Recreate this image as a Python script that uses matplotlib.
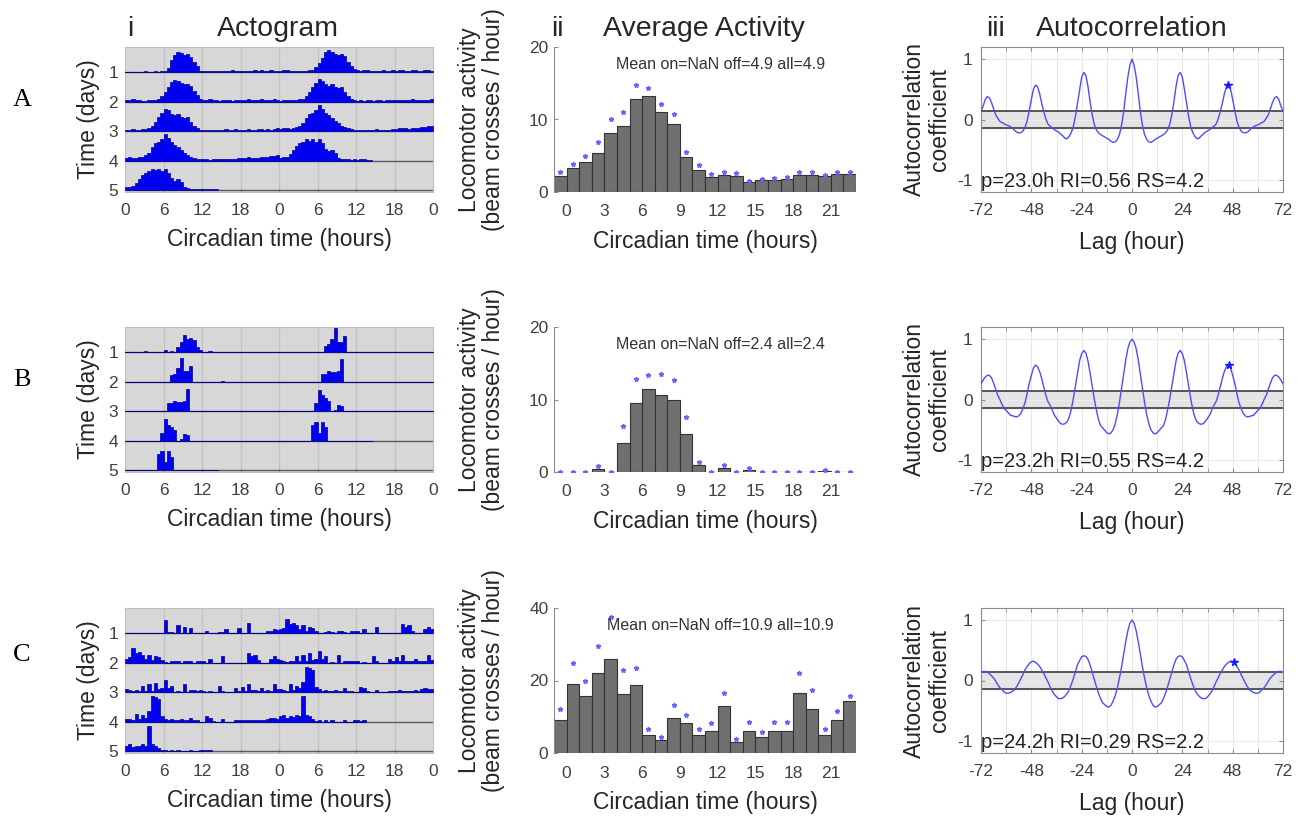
import numpy as np
import matplotlib.pyplot as plt

plt.rcParams["font.family"] = ["Liberation Sans", "DejaVu Sans"]
plt.rcParams["axes.unicode_minus"] = False

# ---------------- data ----------------
panel_labels = ["A", "B", "C"]

# actogram activity, 30-min bins, one list per day (last day is partial)
acto_a = [
    [0, 0, 0, 0, 0.2, 0, 0.3, 0, 0.2, 0.3, 0.2, 0.3, 0.4, 1.5, 4.5, 6.5, 7.7, 7.4, 6.6, 7.0,
     5.7, 3.8, 2.4, 0.6, 0.3, 0.5, 0.6, 0.4, 0.5, 0.3, 0.6, 0.4, 0.5, 0.8, 0.3, 0.4, 0.6, 0.3, 0.5, 0.4,
     0.7, 0.5, 0.8, 0.6, 0.5, 0.9, 0.5, 0.6],
    [0.5, 0.8, 1.0, 0.6, 0.5, 0.4, 0.3, 0.5, 0.6, 0.8, 1.0, 2.0, 3.5, 5.5, 7.5, 8.3, 7.8, 7.0, 6.5, 6.8,
     6.0, 4.0, 2.5, 1.2, 0.8, 0.6, 0.9, 0.7, 0.5, 0.4, 0.6, 0.5, 0.7, 0.4, 0.6, 0.8, 0.5, 0.7, 0.9, 0.6,
     0.5, 0.8, 1.0, 0.6, 0.5, 0.7, 0.9, 0.6],
    [0.4, 0.6, 0.8, 0.5, 0.6, 0.7, 0.9, 1.2, 2.0, 3.5, 5.5, 7.0, 8.5, 8.0, 6.5, 6.0, 6.5, 5.5, 5.0, 5.5,
     3.5, 2.0, 1.2, 0.6, 0.4, 0.5, 0.3, 0.5, 0.6, 0.4, 0.5, 0.7, 0.4, 0.6, 0.8, 0.5, 0.6, 0.5, 0.8, 0.6,
     0.5, 0.9, 0.7, 0.5, 0.8, 0.6, 0.7, 1.0],
    [0.8, 1.2, 1.0, 0.9, 1.3, 1.5, 2.0, 3.0, 5.0, 6.5, 7.0, 8.0, 10.0, 8.5, 7.0, 6.0, 5.0, 4.0, 3.0, 2.0,
     1.5, 1.0, 0.7, 0.5, 0.4, 0.5, 0.3, 0.6, 0.4, 0.5, 0.7, 0.6, 0.5, 0.4, 0.6, 0.8, 0.9, 1.0, 1.2, 1.0,
     0.9, 1.1, 1.3, 1.2, 1.4, 1.6, 1.8, 2.0],
    [1.0, 1.2, 1.5, 2.5, 4.0, 5.5, 6.5, 7.0, 8.0, 7.5, 8.0, 7.0, 8.0, 6.5, 4.5, 3.5, 4.0, 3.0, 1.0, 0.6,
     0.5, 0.4, 0.3, 0.5, 0.3, 0.4, 0.5, 0.3, 0.2],
]
acto_b = [
    [0, 0, 0, 0, 0, 0, 0.4, 0, 0, 0, 0, 0, 0.8, 0, 0.6, 0, 2.0, 4.0, 6.5, 5.0,
     5.5, 4.5, 2.0, 1.0, 0, 0, 0.5, 0, 0, 0, 0, 0, 0, 0, 0, 0, 0, 0, 0, 0,
     0, 0, 0.2, 0, 0, 0, 0, 0],
    [0, 0, 0, 0, 0, 0, 0, 0, 0, 0, 0, 0, 0, 0, 2.5, 3.0, 5.0, 9.0, 4.0, 4.0,
     6.0, 0, 0, 0, 0, 0, 0, 0, 0, 0, 0.3, 0, 0, 0, 0, 0, 0, 0, 0, 0,
     0, 0, 0, 0, 0, 0, 0, 0],
    [0, 0, 0, 0, 0, 0, 0, 0, 0, 0, 0, 0, 0, 3.0, 3.0, 4.0, 3.5, 3.5, 4.0, 8.5,
     0, 0, 0, 0, 0, 0, 0, 0, 0, 0, 0, 0, 0, 0, 0, 0, 0, 0, 0, 0,
     0, 0, 0, 0, 0, 0, 0, 0],
    [0, 0, 0, 0, 0, 0, 0, 0, 0, 0, 0, 3.0, 8.0, 6.0, 5.0, 4.0, 0, 0.5, 2.5, 2.0,
     0, 0, 0, 0, 0, 0, 0, 0, 0, 0, 0, 0, 0, 0, 0, 0, 0, 0, 0, 0,
     0, 0, 0, 0, 0, 0, 0, 0],
    [0, 0, 0, 0, 0, 0, 0, 0, 0, 0, 6.0, 7.0, 3.0, 7.0, 5.0, 0, 0, 0, 0, 0,
     0, 0, 0, 0, 0, 0, 0, 0, 0],
]
acto_c = [
    [0, 0, 0, 0, 0, 0, 0.3, 0, 0, 0, 0, 0, 5.0, 0.6, 0.5, 0.3, 3.0, 0, 2.5, 0.3,
     2.0, 0.3, 0, 0.3, 0, 0.7, 0, 0, 0, 0.5, 0.6, 1.5, 0.3, 0, 0.3, 2.0, 0, 0, 4.0, 0,
     0, 0, 0, 0, 0.7, 1.0, 1.5, 1.2],
    [1.5, 2.0, 5.5, 3.5, 4.0, 3.0, 1.5, 3.0, 1.0, 2.5, 2.0, 1.0, 0.3, 0, 0.6, 0.8, 0.5, 0, 0.7, 0.8,
     0.6, 0, 0.7, 0.8, 0.7, 0, 1.5, 0, 0, 0, 2.5, 0, 0, 0, 0, 0, 0, 0, 3.5, 2.5,
     3.0, 1.0, 0, 0, 0, 1.5, 2.5, 1.5],
    [1.0, 0.8, 0.3, 0.8, 0.5, 2.5, 0.5, 3.0, 0.5, 3.5, 1.0, 1.5, 4.5, 1.5, 2.5, 0, 0.3, 0, 3.0, 0,
     0.8, 0.7, 0.6, 0.8, 0.5, 0, 0.3, 0, 0, 2.5, 0.5, 0, 0, 0, 1.5, 0.5, 2.0, 0.5, 3.0, 0.8,
     0.8, 0.5, 1.5, 0.6, 0.7, 0.6, 3.0, 1.0],
    [1.0, 0.8, 0.5, 3.0, 0.8, 2.5, 1.5, 4.0, 9.5, 9.3, 8.5, 2.0, 1.0, 0.6, 0.8, 0.5, 0.6, 0.8, 0.5, 0.6,
     1.5, 0.6, 0.5, 0, 0, 2.0, 1.5, 0.3, 0, 0, 0.8, 0, 0, 0, 0.5, 0.6, 0.5, 0.7, 0.6, 0.5,
     0.6, 0.5, 0.7, 0.5, 1.0, 1.5, 1.2, 1.0],
    [2.0, 2.5, 1.5, 2.0, 1.8, 2.5, 2.0, 9.5, 2.5, 2.0, 1.0, 0.3, 0.5, 0, 0.4, 0, 0.5, 0, 0, 0,
     0.5, 0, 0, 0.5, 0.4, 0.3, 0.4],
]

# average activity per circadian hour: bars (mean) and blue points
hours = np.arange(24)
avg_a = [2.2, 3.3, 4.1, 5.4, 8.1, 9.1, 12.8, 13.3, 11.1, 9.4, 4.8, 3.1,
         2.1, 2.4, 2.2, 1.4, 1.7, 1.7, 1.8, 2.3, 2.3, 2.2, 2.5, 2.5]
upper_a = [2.7, 3.9, 5.0, 6.9, 10.1, 11.0, 14.8, 14.4, 12.2, 10.7, 5.5, 3.7,
           2.5, 2.8, 2.6, 1.5, 1.8, 1.9, 2.1, 2.7, 2.7, 2.4, 2.8, 2.8]
avg_b = [0, 0, 0, 0.4, 0, 4.0, 9.5, 11.4, 10.6, 9.9, 5.2, 0.9,
         0, 0.5, 0, 0.3, 0.05, 0.05, 0.05, 0.05, 0.05, 0.2, 0.05, 0.05]
upper_b = [0, 0, 0, 0.8, 0, 6.3, 12.8, 13.4, 13.5, 12.7, 7.6, 1.4,
           0, 1.0, 0, 0.6, 0, 0, 0, 0, 0, 0.3, 0, 0]
avg_c = [9.1, 18.9, 15.6, 22.0, 26.0, 16.2, 18.8, 4.9, 3.5, 9.6, 8.3, 5.0,
         6.2, 13.0, 2.9, 6.0, 4.3, 6.0, 6.0, 16.5, 12.2, 4.9, 9.2, 14.3]
upper_c = [12.1, 24.8, 20.0, 29.5, 37.4, 22.9, 23.4, 6.7, 4.4, 13.3, 10.6, 6.7,
           8.4, 16.5, 3.9, 8.5, 5.8, 8.5, 8.5, 22.2, 17.4, 6.6, 11.5, 15.8]
avg_ymax = [20, 20, 40]
avg_yticks = [[0, 10, 20], [0, 10, 20], [0, 20, 40]]
mean_text = ["Mean on=NaN off=4.9 all=4.9",
             "Mean on=NaN off=2.4 all=2.4",
             "Mean on=NaN off=10.9 all=10.9"]

# autocorrelation at 1-h lags, -72 .. 72
lags = np.arange(-72, 73)
acf_a = [0.14, 0.22, 0.33, 0.38, 0.36, 0.28, 0.18, 0.08, 0.02, -0.03, -0.05, -0.07,
         -0.09, -0.10, -0.12, -0.14, -0.18, -0.21, -0.22, -0.22, -0.19, -0.13,
         -0.02, 0.15, 0.33, 0.50, 0.57, 0.54, 0.42, 0.26, 0.12, 0.00,
         -0.08, -0.11, -0.14, -0.17, -0.19, -0.21, -0.24, -0.27, -0.31, -0.32,
         -0.28, -0.22, -0.12, 0.05, 0.27, 0.50, 0.70, 0.78, 0.73, 0.55,
         0.30, 0.08, -0.08, -0.17, -0.22, -0.25, -0.27, -0.29, -0.31, -0.33,
         -0.36, -0.38, -0.37, -0.33, -0.25, -0.10, 0.12, 0.42, 0.70, 0.90,
         1.00, 0.90, 0.70, 0.42, 0.12, -0.10, -0.25, -0.33, -0.37, -0.38,
         -0.36, -0.33, -0.31, -0.29, -0.27, -0.25, -0.22, -0.17, -0.08, 0.08,
         0.30, 0.55, 0.73, 0.78, 0.70, 0.50, 0.27, 0.05, -0.12, -0.22,
         -0.28, -0.32, -0.31, -0.27, -0.24, -0.21, -0.19, -0.17, -0.14, -0.11,
         -0.08, 0.00, 0.12, 0.26, 0.42, 0.54, 0.57, 0.50, 0.33, 0.15,
         -0.02, -0.13, -0.19, -0.22, -0.22, -0.21, -0.18, -0.14, -0.12, -0.10,
         -0.09, -0.07, -0.05, -0.03, 0.02, 0.08, 0.18, 0.28, 0.36, 0.38,
         0.33, 0.22, 0.14]
acf_b = [0.26, 0.32, 0.37, 0.40, 0.40, 0.36, 0.27, 0.17, 0.07, 0.00, -0.08, -0.15,
         -0.18, -0.22, -0.26, -0.27, -0.28, -0.29, -0.27, -0.23, -0.15, -0.05,
         0.10, 0.27, 0.40, 0.52, 0.57, 0.54, 0.46, 0.34, 0.20, 0.06,
         -0.04, -0.10, -0.18, -0.26, -0.31, -0.36, -0.40, -0.41, -0.40, -0.37,
         -0.30, -0.17, 0.01, 0.22, 0.44, 0.64, 0.76, 0.81, 0.77, 0.64,
         0.44, 0.22, 0.01, -0.17, -0.33, -0.43, -0.47, -0.51, -0.55, -0.57,
         -0.55, -0.50, -0.40, -0.25, -0.05, 0.18, 0.42, 0.65, 0.84, 0.95,
         1.00, 0.95, 0.84, 0.65, 0.42, 0.18, -0.05, -0.25, -0.40, -0.50,
         -0.55, -0.57, -0.55, -0.51, -0.47, -0.43, -0.33, -0.17, 0.01, 0.22,
         0.44, 0.64, 0.77, 0.81, 0.76, 0.64, 0.44, 0.22, 0.01, -0.17,
         -0.30, -0.37, -0.40, -0.41, -0.40, -0.36, -0.31, -0.26, -0.18, -0.10,
         -0.04, 0.06, 0.20, 0.34, 0.46, 0.54, 0.57, 0.52, 0.40, 0.27,
         0.10, -0.05, -0.15, -0.23, -0.27, -0.29, -0.28, -0.27, -0.26, -0.22,
         -0.18, -0.15, -0.08, 0.00, 0.07, 0.17, 0.27, 0.36, 0.40, 0.40,
         0.37, 0.32, 0.26]
acf_c = [0.14, 0.15, 0.15, 0.14, 0.11, 0.08, 0.04, -0.01, -0.07, -0.12, -0.15, -0.19,
         -0.21, -0.21, -0.20, -0.18, -0.15, -0.10, -0.04, 0.03, 0.10, 0.18,
         0.23, 0.28, 0.31, 0.32, 0.30, 0.27, 0.23, 0.17, 0.11, 0.04,
         -0.03, -0.11, -0.18, -0.23, -0.27, -0.30, -0.30, -0.29, -0.26, -0.22,
         -0.16, -0.07, 0.03, 0.14, 0.26, 0.33, 0.39, 0.41, 0.40, 0.35,
         0.26, 0.14, 0.02, -0.10, -0.21, -0.30, -0.37, -0.40, -0.43, -0.44,
         -0.41, -0.34, -0.25, -0.12, 0.04, 0.22, 0.43, 0.64, 0.82, 0.95,
         1.00, 0.95, 0.82, 0.64, 0.43, 0.22, 0.04, -0.12, -0.25, -0.34,
         -0.41, -0.44, -0.43, -0.40, -0.37, -0.30, -0.21, -0.10, 0.02, 0.14,
         0.26, 0.35, 0.40, 0.41, 0.39, 0.33, 0.26, 0.14, 0.03, -0.07,
         -0.16, -0.22, -0.26, -0.29, -0.30, -0.30, -0.27, -0.23, -0.18, -0.11,
         -0.03, 0.04, 0.11, 0.17, 0.23, 0.27, 0.30, 0.32, 0.31, 0.28,
         0.23, 0.18, 0.10, 0.03, -0.04, -0.10, -0.15, -0.18, -0.20, -0.21,
         -0.21, -0.19, -0.15, -0.12, -0.07, -0.01, 0.04, 0.08, 0.11, 0.14,
         0.15, 0.15, 0.14]
peak_lag = [46.0, 46.4, 48.4]
peak_r = [0.57, 0.57, 0.31]
stats_text = ["p=23.0h RI=0.56 RS=4.2",
              "p=23.2h RI=0.55 RS=4.2",
              "p=24.2h RI=0.29 RS=2.2"]
conf = 0.135

# ---------------- layout (pixels) ----------------
W, H = 1311, 818
TXT = "#262626"
row_tb = [(47, 192), (327, 472), (608, 753)]
col_lr = [(125, 433), (554, 856), (981, 1283)]
row_label_y = [100, 380, 655]

fig = plt.figure(figsize=(W / 100, H / 100), dpi=100)


def px_axes(lr, tb):
    (l, r), (t, b) = lr, tb
    return fig.add_axes([l / W, 1 - b / H, (r - l) / W, (b - t) / H])


def draw_actogram(ax, days):
    ax.set_facecolor("#d7d7d7")
    for xx in range(6, 48, 6):
        ax.axvline(xx, color="#c3c3c3", lw=1.0, zorder=1)
    for k in range(len(days)):
        vals = list(days[k])
        if k + 1 < len(days):
            vals = vals + list(days[k + 1])
        h = np.array(vals) * 0.09
        x = np.arange(len(h) + 1) * 0.5
        base = k + 1
        ax.axhline(base, color="#5a5a5a", lw=1.0, zorder=2)
        ax.fill_between(x, base, base - np.append(h, h[-1]), step="post",
                        facecolor="#0000f0", edgecolor="#000090", lw=0.5, zorder=3)
    ax.set_xlim(0, 48)
    ax.set_ylim(5.07, 0.14)
    ax.set_xticks(range(0, 49, 6))
    ax.set_xticklabels(["0", "6", "12", "18", "0", "6", "12", "18", "0"])
    ax.set_yticks([1, 2, 3, 4, 5])
    ax.tick_params(direction="in", length=3, color="#a0a0a0", labelsize=12.5,
                   labelcolor="#404040")
    ax.tick_params(axis="x", pad=8)
    ax.tick_params(axis="y", pad=5)
    for s in ax.spines.values():
        s.set_color("#c0c0c0")
    ax.set_ylabel("Time (days)", fontsize=16.5, color=TXT, va="center")
    ax.yaxis.set_label_coords(-0.12, 0.5)
    ax.set_xlabel("Circadian time (hours)", fontsize=16.5, color=TXT, va="center")
    ax.xaxis.set_label_coords(0.5, -0.33)


def draw_average(ax, vals, upper, ymax, yticks, txt):
    ax.bar(hours - 0.5, vals, width=1.0, color="#707070", edgecolor="#333333", lw=0.8)
    ax.plot(hours - 0.5, upper, ls="none", marker="*", ms=3.5, color="#6464ff")
    ax.set_xlim(-1, 23)
    ax.set_ylim(0, ymax)
    ax.set_xticks(range(0, 22, 3))
    ax.set_yticks(yticks)
    for side in ["top", "right", "bottom"]:
        ax.spines[side].set_visible(False)
    ax.spines["left"].set_color("#8c8c8c")
    ax.tick_params(axis="x", length=0, pad=9, labelsize=12.5, labelcolor="#404040")
    ax.tick_params(axis="y", direction="in", length=3, color="#8c8c8c", pad=4,
                   labelsize=12.5, labelcolor="#404040")
    ax.text(0.55, 0.88, txt, transform=ax.transAxes, ha="center", va="center",
            fontsize=11.5, color="#333333")
    ax.set_ylabel("Locomotor activity\n(beam crosses / hour)", fontsize=16.5, color=TXT,
                  va="center", linespacing=1.05)
    ax.yaxis.set_label_coords(-0.24, 0.5)
    ax.set_xlabel("Circadian time (hours)", fontsize=16.5, color=TXT, va="center")
    ax.xaxis.set_label_coords(0.5, -0.34)


def draw_acf(ax, acf, plag, pr, txt):
    ax.axhspan(-conf, conf, color="#e4e4e4", zorder=0)
    ax.axhline(conf, color="#4a4a4a", lw=1.3, zorder=2)
    ax.axhline(-conf, color="#4a4a4a", lw=1.3, zorder=2)
    ax.plot(lags, acf, color="#4d4dff", lw=1.0, zorder=3)
    ax.plot([plag], [pr], ls="none", marker="*", ms=5.5, color="#1a1aff", zorder=4)
    ax.set_xlim(-72, 72)
    ax.set_ylim(-1.2, 1.2)
    ax.set_xticks(range(-72, 73, 24))
    ax.set_xticks(range(-60, 61, 24), minor=True)
    ax.set_yticks([-1, 0, 1])
    ax.grid(True, which="both", axis="x", color="#e6e6e6", lw=0.8, zorder=0)
    ax.grid(True, which="major", axis="y", color="#ececec", lw=0.8, zorder=0)
    ax.tick_params(which="both", direction="in", top=True, right=True, length=3,
                   color="#8c8c8c", labelsize=12.5, labelcolor="#404040")
    ax.tick_params(axis="x", pad=8)
    ax.tick_params(axis="y", pad=6)
    for s in ax.spines.values():
        s.set_color("#8c8c8c")
    ax.text(-72, -1.03, txt, ha="left", va="center", fontsize=14.5, color="#222222",
            zorder=5)
    ax.set_ylabel("Autocorrelation\ncoefficient", fontsize=16.5, color=TXT, va="center",
                  linespacing=1.1)
    ax.yaxis.set_label_coords(-0.18, 0.5)
    ax.set_xlabel("Lag (hour)", fontsize=16.5, color=TXT, va="center")
    ax.xaxis.set_label_coords(0.5, -0.35)


acto_all = [acto_a, acto_b, acto_c]
avg_all = [avg_a, avg_b, avg_c]
upper_all = [upper_a, upper_b, upper_c]
acf_all = [acf_a, acf_b, acf_c]

for i in range(3):
    ax1 = px_axes(col_lr[0], row_tb[i])
    draw_actogram(ax1, acto_all[i])
    ax2 = px_axes(col_lr[1], row_tb[i])
    draw_average(ax2, avg_all[i], upper_all[i], avg_ymax[i], avg_yticks[i], mean_text[i])
    ax3 = px_axes(col_lr[2], row_tb[i])
    draw_acf(ax3, acf_all[i], peak_lag[i], peak_r[i], stats_text[i])
    fig.text(22 / W, 1 - row_label_y[i] / H, panel_labels[i], fontsize=19,
             family="Liberation Serif", ha="center", va="center", color="black")

# column headers
for x, s in [(130, "i"), (278, "Actogram"), (557, "ii"), (704, "Average Activity"),
             (995, "iii"), (1132, "Autocorrelation")]:
    fig.text(x / W, 1 - 29 / H, s, fontsize=20.5, ha="center", va="center", color=TXT)

fig.savefig("out.png", dpi=100)
